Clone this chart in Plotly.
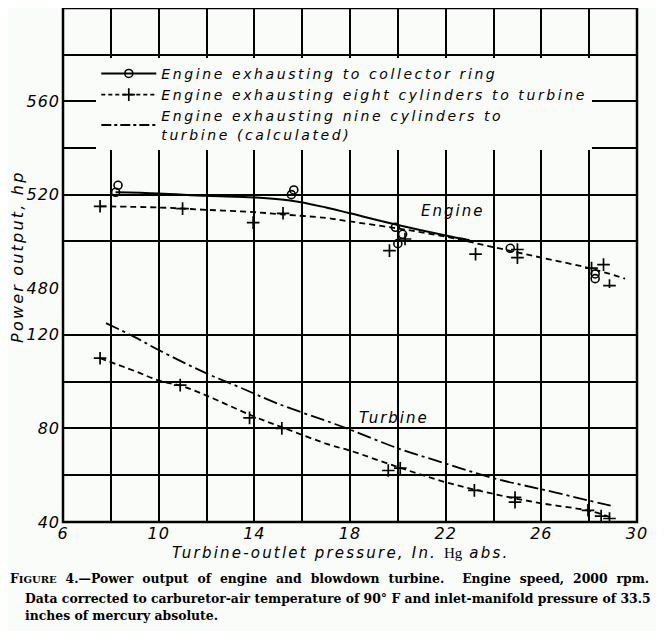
import plotly.graph_objects as go

# turbine-outlet pressure (in. Hg abs.) and power (hp)
ring_pts_x = [8.2, 8.3, 15.55, 15.65, 19.9, 20.0, 20.2, 24.7, 28.25, 28.25]
ring_pts_hp = [521, 524, 520, 522, 506, 499, 503, 497, 486, 484]
ring_curve_x = [8.2, 10, 12, 14, 15.5, 17, 18, 20, 22, 23.0]
ring_curve_hp = [521, 520.5, 519.5, 518.8, 517.5, 514.5, 512, 507, 502.5, 500.5]

eight_eng_x = [7.55, 11.0, 13.95, 15.2, 19.65, 20.3, 23.25, 25.0, 25.0, 28.1, 28.6, 28.85]
eight_eng_hp = [515, 514, 508, 512, 496, 501, 494.5, 496.5, 493, 488.5, 490, 481]
eight_eng_curve_x = [7.55, 10, 12, 14, 15.2, 17, 18, 20, 22, 24, 26, 28, 29.5]
eight_eng_curve_hp = [515, 514.5, 513.5, 512.5, 511.5, 510, 508.5, 505.5, 502, 497.5, 493, 488.5, 484]

eight_turb_x = [7.55, 10.9, 13.8, 15.15, 19.6, 20.1, 23.2, 24.9, 24.9, 27.95, 28.5, 28.85]
eight_turb_hp = [110, 98.5, 84.5, 80, 62, 63, 53.5, 50.5, 48.5, 45, 42.5, 41.5]
eight_turb_curve_x = [7.55, 9, 10, 11, 12, 14, 15.15, 17.2, 18, 20, 22, 24, 26, 28, 28.9]
eight_turb_curve_hp = [110, 104.5, 100.5, 98, 94, 85, 80.5, 72.8, 70.5, 63.5, 57, 52, 48, 44.8, 42]

nine_calc_x = [7.8, 9, 10, 12, 13.4, 15, 17.2, 18, 20, 22, 24, 26, 27.9, 28.9]
nine_calc_hp = [125, 119, 113.5, 103.5, 97.5, 90.5, 82.5, 79.5, 71.5, 65, 58.7, 54, 49.4, 47]

x_ticks = [6, 8, 10, 12, 14, 16, 18, 20, 22, 24, 26, 28, 30]
x_labels = ['6', '', '10', '', '14', '', '18', '', '22', '', '26', '', '30']
turb_ticks = [40, 60, 80, 100, 120, 140]
turb_labels = ['40', '', '80', '', '120', '']
eng_ticks = [480, 500, 520, 540, 560, 580, 600]
eng_labels = ['480', '', '520', '', '560', '', '']

lettering = "DejaVu Sans"
caption_font = "DejaVu Serif"
ink = "black"
bg = "#f9fcf9"
split = 0.4553  # fraction of plot height given to the turbine scale


def wide(s, sp=2.6):
    # the original hand lettering is much wider than any installed font
    return "<span style='letter-spacing:%.1fpx'>%s</span>" % (sp, s)


fig = go.Figure()

# engine, collector ring
fig.add_trace(go.Scatter(x=ring_curve_x, y=ring_curve_hp, yaxis='y2', mode='lines',
                         line=dict(color=ink, width=2, shape='spline'), showlegend=False))
fig.add_trace(go.Scatter(x=ring_pts_x, y=ring_pts_hp, yaxis='y2', mode='markers',
                         marker=dict(symbol='circle-open', size=8, color=ink, line=dict(width=1.6)),
                         showlegend=False))
# engine, eight cylinders to turbine
fig.add_trace(go.Scatter(x=eight_eng_curve_x, y=eight_eng_curve_hp, yaxis='y2', mode='lines',
                         line=dict(color=ink, width=1.8, dash='6px,4px', shape='spline'), showlegend=False))
fig.add_trace(go.Scatter(x=eight_eng_x, y=eight_eng_hp, yaxis='y2', mode='markers',
                         marker=dict(symbol='cross-thin', size=9, color=ink, line=dict(width=1.7, color=ink)),
                         showlegend=False))
# turbine, eight cylinders
fig.add_trace(go.Scatter(x=eight_turb_curve_x, y=eight_turb_curve_hp, mode='lines',
                         line=dict(color=ink, width=1.8, dash='6px,4px', shape='spline'), showlegend=False))
fig.add_trace(go.Scatter(x=eight_turb_x, y=eight_turb_hp, mode='markers',
                         marker=dict(symbol='cross-thin', size=9, color=ink, line=dict(width=1.7, color=ink)),
                         showlegend=False))
# turbine, nine cylinders (calculated)
fig.add_trace(go.Scatter(x=nine_calc_x, y=nine_calc_hp, mode='lines',
                         line=dict(color=ink, width=1.8, dash='14px,4px,3px,4px', shape='spline'),
                         showlegend=False))

# legend-only entries
fig.add_trace(go.Scatter(x=[None], y=[None], mode='lines+markers',
                         name=wide('Engine exhausting to collector ring'),
                         line=dict(color=ink, width=2),
                         marker=dict(symbol='circle-open', size=8, color=ink, line=dict(width=1.6))))
fig.add_trace(go.Scatter(x=[None], y=[None], mode='lines+markers',
                         name=wide('Engine exhausting eight cylinders to turbine'),
                         line=dict(color=ink, width=1.8, dash='4px,3px'),
                         marker=dict(symbol='cross-thin', size=9, color=ink, line=dict(width=1.7, color=ink))))
fig.add_trace(go.Scatter(x=[None], y=[None], mode='lines',
                         name=wide('Engine exhausting nine cylinders to') + '<br>' +
                         wide('turbine (calculated)'),
                         line=dict(color=ink, width=2, dash='10px,3px,3px,3px')))

grid = dict(showgrid=True, gridcolor=ink, gridwidth=2, zeroline=False, showline=False,
            ticks='', automargin=False,
            tickfont=dict(family=lettering, size=16, color=ink, style='italic'))

caption_style = dict(family=caption_font, size=12.4, weight='bold', style='normal')

fig.update_layout(
    # the page adds an 8 px body margin, so the figure is drawn 8 px smaller
    width=656, height=623,
    margin=dict(l=55, r=27, t=0, b=109, autoexpand=False),
    paper_bgcolor=bg, plot_bgcolor=bg,
    font=dict(family=lettering, color=ink, style='italic'),
    xaxis=dict(range=[6, 30], tickvals=x_ticks, ticktext=[wide(t, 1) for t in x_labels],
               ticklabelstandoff=0, **grid),
    yaxis=dict(range=[40, 140], domain=[0, split], tickvals=turb_ticks,
               ticktext=[wide(t, 1) for t in turb_labels], ticklabelstandoff=2, **grid),
    yaxis2=dict(range=[480, 600], domain=[split, 1], anchor='x', tickvals=eng_ticks,
                ticktext=[wide(t, 1) for t in eng_labels], ticklabelstandoff=2, **grid),
    legend=dict(x=0.058, y=0.903, xanchor='left', yanchor='top', bgcolor=bg,
                font=dict(family=lettering, size=14, color=ink, style='italic'),
                itemwidth=55, tracegroupgap=0, itemclick=False),
    shapes=[dict(type='rect', xref='paper', yref='paper', x0=0, x1=1, y0=0, y1=1,
                 line=dict(color=ink, width=2.5))],
    annotations=[
        dict(text=wide('Engine', 2), x=20.9, y=513, xref='x', yref='y2', showarrow=False,
             xanchor='left', yanchor='middle', font=dict(size=15, style='italic')),
        dict(text=wide('Turbine', 2), x=18.3, y=84.3, xref='x', yref='y', showarrow=False,
             xanchor='left', yanchor='middle', font=dict(size=15, style='italic')),
        dict(text=wide('Power output, hp', 2.2), x=-0.079, y=0.515, xref='paper', yref='paper',
             xanchor='center', yanchor='middle', textangle=-90, showarrow=False,
             font=dict(size=16, style='italic')),
        dict(text=wide("Turbine-outlet pressure, In. ", 2.2) +
             "<span style='font-family:Liberation Serif;font-style:normal'>Hg</span>" +
             wide(" abs.", 2.2),
             x=0.483, y=-0.06, xref='paper', yref='paper', xanchor='center', yanchor='middle',
             showarrow=False, font=dict(size=15, style='italic')),
        dict(text="<span style='word-spacing:4.6px'>F<span style='font-size:10px'>IGURE</span> "
                  "4.—Power output of engine and blowdown turbine.  Engine speed, 2000 rpm.</span>",
             x=-0.0955, y=-0.109, xref='paper', yref='paper', xanchor='left', yanchor='middle',
             showarrow=False, font=caption_style),
        dict(text="Data corrected to carburetor-air temperature "
                  "of 90° F and inlet-manifold pressure of 33.5",
             x=-0.07, y=-0.148, xref='paper', yref='paper', xanchor='left', yanchor='middle',
             showarrow=False, font=caption_style),
        dict(text="inches of mercury absolute.",
             x=-0.07, y=-0.181, xref='paper', yref='paper', xanchor='left', yanchor='middle',
             showarrow=False, font=caption_style),
    ],
)

fig.write_html("out.html")
